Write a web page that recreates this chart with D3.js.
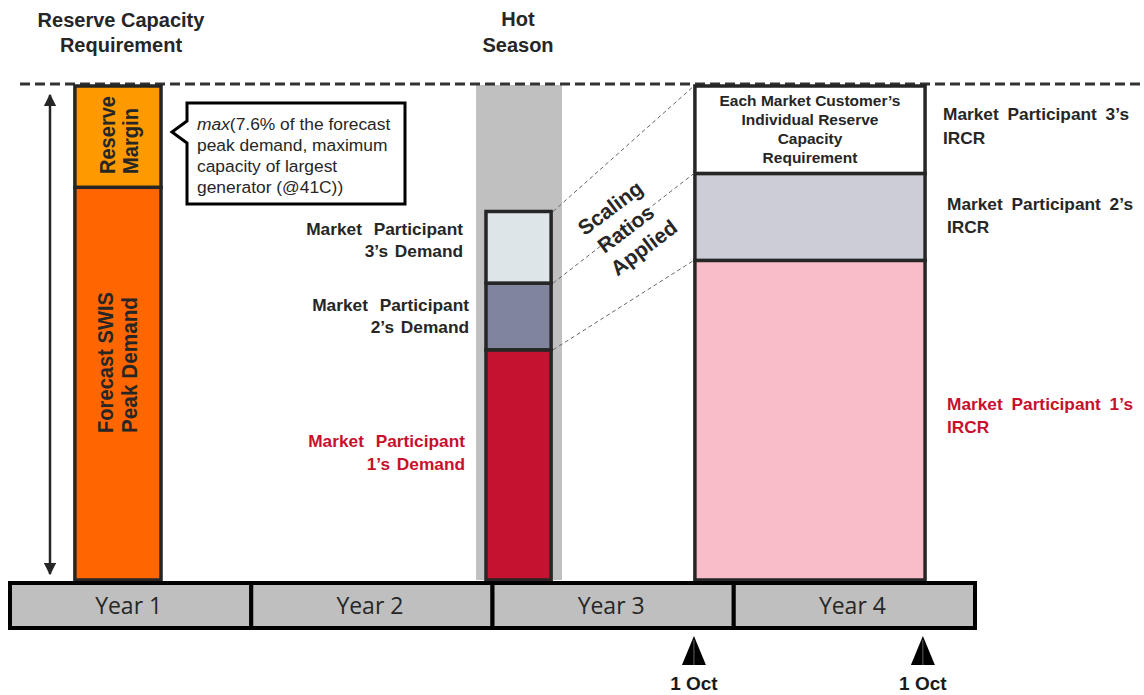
<!DOCTYPE html>
<html>
<head>
<meta charset="utf-8">
<script src="https://cdn.jsdelivr.net/npm/d3@7"></script>
<style>
  html, body { margin: 0; padding: 0; background: #fff; }
  svg { display: block; }
  .b { font-family: "Liberation Sans", Arial, sans-serif; font-weight: bold; }
  .r { font-family: "Liberation Sans", Arial, sans-serif; }
</style>
</head>
<body>
<svg id="chart" width="1144" height="695"></svg>
<script>
// ---------------- DATA ----------------
const years = ["Year 1", "Year 2", "Year 3", "Year 4"];
const titleLines = ["Reserve Capacity", "Requirement"];
const hotSeasonLines = ["Hot", "Season"];

// Year 1 stacked requirement (share of total requirement, %)
const requirementParts = ["Forecast SWIS Peak Demand", "Reserve Margin"];
const requirementValues = [79.5, 20.5];

// Year 3 hot season demand per participant (% of requirement)
const participants = ["Market Participant 1", "Market Participant 2", "Market Participant 3"];
const demandValues = [46.6, 13.5, 14.5];

// Year 4 individual reserve capacity requirement per participant (%)
const ircrValues = [64.7, 17.6, 17.7];

// Timeline markers (in years from start of Year 1)
const octMarkers = [2.835, 3.784];
const octLabel = "1 Oct";

// Bar time spans (years from start of Year 1)
const requirementSpan = [0.269, 0.626];
const hotSeasonSpan = [1.932, 2.288];
const demandSpan = [1.973, 2.243];
const ircrSpan = [2.839, 3.793];

// ---------------- LAYOUT ----------------
const svg = d3.select("#chart");
const x = d3.scaleLinear().domain([0, 4]).range([10, 975]);
const yearBand = d3.scaleBand().domain(years).range([10, 975]);
const y = d3.scaleLinear().domain([0, 100]).range([580, 86]);

const barStroke = "#262626";
const red = "#C8102E";

// Hot season band
svg.append("rect")
  .attr("x", x(hotSeasonSpan[0])).attr("y", y(100) - 1)
  .attr("width", x(hotSeasonSpan[1]) - x(hotSeasonSpan[0]))
  .attr("height", y(0) - y(100) + 1)
  .attr("fill", "#C0C0C0");

// Dashed top line
svg.append("line")
  .attr("x1", 20).attr("x2", 1141).attr("y1", y(100) - 2).attr("y2", y(100) - 2)
  .attr("stroke", "#333").attr("stroke-width", 3).attr("stroke-dasharray", "10,5");

// Titles
svg.append("text").attr("class", "b").attr("text-anchor", "middle")
  .attr("font-size", 20).attr("fill", "#262626")
  .selectAll("tspan").data(titleLines).join("tspan")
  .attr("x", 121).attr("y", (d, i) => 27 + i * 25).text(d => d);
svg.append("text").attr("class", "b").attr("text-anchor", "middle")
  .attr("font-size", 20).attr("fill", "#262626")
  .selectAll("tspan").data(hotSeasonLines).join("tspan")
  .attr("x", 518).attr("y", (d, i) => 26 + i * 26).text(d => d);

// Double-headed arrow
const defs = svg.append("defs");
defs.append("marker").attr("id", "ah").attr("viewBox", "0 0 10 10")
  .attr("refX", 9).attr("refY", 5).attr("markerWidth", 5).attr("markerHeight", 5)
  .attr("markerUnits", "strokeWidth").attr("orient", "auto-start-reverse")
  .append("path").attr("d", "M0,0 L10,5 L0,10 Z").attr("fill", "#262626");
svg.append("line")
  .attr("x1", 50).attr("x2", 50).attr("y1", y(100) + 9).attr("y2", y(0) - 6)
  .attr("stroke", "#262626").attr("stroke-width", 2.5)
  .attr("marker-start", "url(#ah)").attr("marker-end", "url(#ah)");

// Helper to draw stacked bar
function stackBar(span, values, colors) {
  const tops = d3.cumsum(values);
  const g = svg.append("g");
  g.selectAll("rect").data(values).join("rect")
    .attr("x", x(span[0]))
    .attr("width", x(span[1]) - x(span[0]))
    .attr("y", (d, i) => y(tops[i]))
    .attr("height", (d, i) => y(tops[i] - d) - y(tops[i]))
    .attr("fill", (d, i) => colors[i])
    .attr("stroke", barStroke).attr("stroke-width", 3.5);
  return tops;
}

// Year 1 bar
stackBar(requirementSpan, requirementValues, ["#FF6600", "#FF9900"]);
// Year 3 bar
const demandTops = stackBar(demandSpan, demandValues, ["#C41230", "#80849C", "#DDE5E8"]);
// Year 4 bar
const ircrTops = stackBar(ircrSpan, ircrValues, ["#F8BDC8", "#CDCDD7", "#FFFFFF"]);

// Connector dashed lines
svg.append("g").selectAll("line").data(demandTops).join("line")
  .attr("x1", x(demandSpan[1]) + 2).attr("y1", d => y(d))
  .attr("x2", (d, i) => x(ircrSpan[0]) - 1).attr("y2", (d, i) => y(ircrTops[i]))
  .attr("stroke", "#666").attr("stroke-width", 1).attr("stroke-dasharray", "4,3");

// Rotated labels in Year 1 bar
function vLabel(lines, baseX, startY, lengths, size) {
  lines.forEach((t, i) => {
    svg.append("text").attr("class", "b")
      .attr("font-size", size).attr("fill", "#262626")
      .attr("transform", `translate(${baseX[i]},${startY}) rotate(-90)`)
      .attr("textLength", lengths[i]).attr("lengthAdjust", "spacingAndGlyphs")
      .text(t);
  });
}
vLabel(["Reserve", "Margin"], [115, 138], 174, [78, 66], 22);
vLabel(["Forecast SWIS", "Peak Demand"], [113, 137], 433, [141, 136], 22);

// Callout box
svg.append("path")
  .attr("d", "M187,103 H405 V204 H187 V143 L172,132 L187,121 Z")
  .attr("fill", "#fff").attr("stroke", "#000").attr("stroke-width", 3)
  .attr("stroke-linejoin", "miter");
const callout = [
  [["max", true], ["(7.6% of the forecast", false]],
  [["peak demand, maximum", false]],
  [["capacity of largest", false]],
  [["generator (@41C))", false]]
];
callout.forEach((parts, i) => {
  const t = svg.append("text").attr("class", "r").attr("font-size", 17.4)
    .attr("fill", "#262626").attr("x", 197).attr("y", 130 + i * 21);
  parts.forEach(p => t.append("tspan").attr("font-style", p[1] ? "italic" : "normal").text(p[0]));
});

// Multi-line bold labels
function lines(arr, xPos, y0, dy, anchor, color, ws) {
  const t = svg.append("text").attr("class", "b").attr("font-size", 17.3)
    .attr("fill", color).attr("text-anchor", anchor);
  t.selectAll("tspan").data(arr).join("tspan")
    .attr("x", xPos).attr("y", (d, i) => y0 + i * dy)
    .attr("word-spacing", (d, i) => i === 0 ? ws : 2).text(d => d);
}
lines(["Market Participant", "3\u2019s Demand"], 463, 235, 22, "end", "#262626", 7);
lines(["Market Participant", "2\u2019s Demand"], 469, 311, 22, "end", "#262626", 7);
lines(["Market Participant", "1\u2019s Demand"], 465, 447, 23, "end", red, 7);

// Scaling ratios applied
const sg = svg.append("g").attr("transform", "translate(626,229) rotate(-37)");
sg.selectAll("text").data(["Scaling", "Ratios", "Applied"]).join("text")
  .attr("class", "b").attr("font-size", 21).attr("fill", "#262626")
  .attr("text-anchor", "middle")
  .attr("x", (d, i) => [0, 0, 3][i])
  .attr("y", (d, i) => (i - 1) * 26 + 7).text(d => d);

// Year 4 top segment text
svg.append("text").attr("class", "b").attr("font-size", 15.5).attr("fill", "#262626")
  .attr("text-anchor", "middle")
  .selectAll("tspan").data(["Each Market Customer\u2019s", "Individual Reserve", "Capacity", "Requirement"])
  .join("tspan").attr("x", (x(ircrSpan[0]) + x(ircrSpan[1])) / 2)
  .attr("y", (d, i) => 106 + i * 19).text(d => d);

// Right labels
lines(["Market Participant 3\u2019s", "IRCR"], 943, 120, 24, "start", "#262626", 4);
lines(["Market Participant 2\u2019s", "IRCR"], 947, 210, 23, "start", "#262626", 4);
lines(["Market Participant 1\u2019s", "IRCR"], 947, 410, 23, "start", red, 4);

// Year strip
const yearG = svg.append("g");
yearG.selectAll("rect").data(years).join("rect")
  .attr("x", d => yearBand(d)).attr("width", yearBand.bandwidth())
  .attr("y", 583).attr("height", 45)
  .attr("fill", "#BFBFBF").attr("stroke", "#000").attr("stroke-width", 4);
yearG.selectAll("text").data(years).join("text")
  .attr("x", d => yearBand(d) + yearBand.bandwidth() / 2 - 2).attr("y", 614)
  .attr("text-anchor", "middle").attr("font-family", "'Open Sans', sans-serif")
  .attr("font-size", 23).attr("fill", "#262626").attr("textLength", 67).attr("lengthAdjust", "spacingAndGlyphs")
  .text(d => d);

// 1 Oct markers
const og = svg.append("g").selectAll("g").data(octMarkers).join("g")
  .attr("transform", d => `translate(${x(d)},0)`);
og.append("path").attr("d", "M0,636 L12,665 L-12,665 Z").attr("fill", "#000");
og.append("line").attr("x1", 0).attr("x2", 0).attr("y1", 640).attr("y2", 665)
  .attr("stroke", "#777").attr("stroke-width", 0.8);
og.append("text").attr("class", "b").attr("font-size", 19).attr("fill", "#1a1a1a")
  .attr("text-anchor", "middle").attr("y", 690).text(octLabel);
</script>
</body>
</html>
